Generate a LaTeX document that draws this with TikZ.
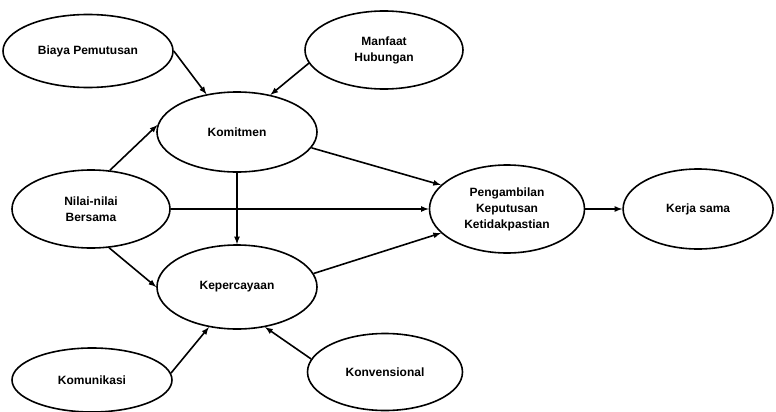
\documentclass[tikz,border=0pt]{standalone}
\usepackage{fontspec}
\setmainfont{Liberation Sans}
\usetikzlibrary{shapes.geometric,arrows,positioning,calc}
\tikzstyle{construct} = [ellipse, draw=black, line width=1.6pt, inner sep=0pt, text centered, align=center, font=\fontsize{12}{16}\selectfont\bfseries]
\tikzstyle{link} = [-latex, line width=1.6pt]

\begin{document}
\begin{tikzpicture}[x=1pt, y=-1pt]
				\useasboundingbox (0,0) rectangle (776,412);
				\node (biaya) [construct, minimum width=170pt, minimum height=73pt] at (88,51) {Biaya Pemutusan};
				\node (manfaat) [construct, minimum width=158pt, minimum height=78pt] at (384,50) {Manfaat\\Hubungan};
				\node (komitmen) [construct, minimum width=160pt, minimum height=80pt] at (237,132) {Komitmen};
				\node (kepercayaan) [construct, minimum width=160pt, minimum height=84pt] at (237,287) {Kepercayaan};
				\node (nilai) [construct, minimum width=158pt, minimum height=78pt] at (91,209) {Nilai-nilai\\Bersama};
				\node (keputusan) [construct, minimum width=155pt, minimum height=88pt] at (507,209) {Pengambilan\\Keputusan\\Ketidakpastian};
				\node (kerjasama) [construct, minimum width=150pt, minimum height=80pt, right=37pt of keputusan] {Kerja sama};
				\node (komunikasi) [construct, minimum width=160pt, minimum height=64pt] at (92,380) {Komunikasi};
				\node (konvensional) [construct, minimum width=155pt, minimum height=77pt] at (385,372) {Konvensional};
				
				\draw[link] (biaya.east) -- (komitmen.129);
				\draw[link] (manfaat.190) -- (komitmen.48);
				\draw[link] (nilai.64) -- (komitmen.175);
				\draw[link] (nilai.-65) -- (kepercayaan.180);
				\draw[link] (nilai) -- (keputusan);
				\draw[link] (komitmen) -- (kepercayaan);
				\draw[link] (komitmen.-12) -- (keputusan.160);
				\draw[link] (kepercayaan.10) -- (keputusan.200);
				\draw[link] (keputusan) -- (kerjasama);
				\draw[link] (komunikasi.5) -- (kepercayaan.-125);
				\draw[link] (konvensional.170) -- (kepercayaan.-55);
			\end{tikzpicture}
\end{document}
